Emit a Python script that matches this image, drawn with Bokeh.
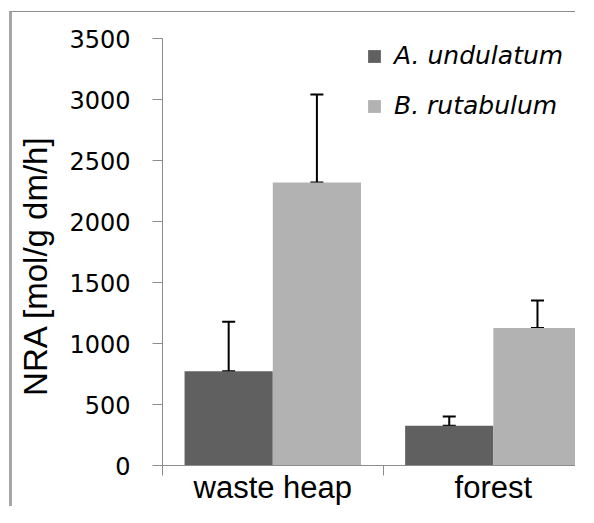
from bokeh.plotting import figure
from bokeh.models import (Range1d, FixedTicker, Whisker, TeeHead, ColumnDataSource,
                          Legend, LegendItem, LinearAxis)
from bokeh.embed import file_html
from bokeh.resources import INLINE

# ---- data ----
categories = ["waste heap", "forest"]
series_names = ["A. undulatum", "B. rutabulum"]
a_undulatum = [772, 325]
b_rutabulum = [2320, 1128]
a_err = [406, 76]
b_err = [722, 224]
y_ticks = [0, 500, 1000, 1500, 2000, 2500, 3000, 3500]
y_label = "NRA [mol/g dm/h]"

colors = ["#606060", "#b2b2b2"]
axis_col = "#8c8c8c"

W, H = 566, 495
p = figure(width=W, height=H, output_backend="svg", toolbar_location=None,
           x_range=Range1d(0, 1.886), y_range=Range1d(0, 3500),
           min_border_left=150, min_border_right=0, min_border_top=26, min_border_bottom=40,
           x_axis_type=None, y_axis_type=None)
# outer picture frame (top and left edges)
p.margin = (11, 0, 0, 9)
p.styles = {"border-top": "1px solid #8c8c8c", "border-left": "3px solid #a6a6a6",
            "border-bottom": "0px none", "border-right": "0px none"}
p.outline_line_color = None
p.xgrid.visible = False
p.ygrid.visible = False
p.background_fill_color = "white"
p.border_fill_color = "white"

bar_w = 0.4
centers = [i + 0.5 for i in range(len(categories))]
xa = [c - bar_w / 2 for c in centers]
xb = [c + bar_w / 2 for c in centers]

src_a = ColumnDataSource(dict(x=xa, top=a_undulatum,
                              up=[v + e for v, e in zip(a_undulatum, a_err)]))
src_b = ColumnDataSource(dict(x=xb, top=b_rutabulum,
                              up=[v + e for v, e in zip(b_rutabulum, b_err)]))

ra = p.vbar(x="x", top="top", width=bar_w, source=src_a, fill_color=colors[0], line_color=None)
rb = p.vbar(x="x", top="top", width=bar_w, source=src_b, fill_color=colors[1], line_color=None)

for src in (src_a, src_b):
    w = Whisker(base="x", lower="top", upper="up", source=src,
                line_color="black", line_width=2,
                upper_head=TeeHead(size=13, line_color="black", line_width=2),
                lower_head=TeeHead(size=13, line_color="black", line_width=2))
    p.add_layout(w)

# y axis
yax = LinearAxis(ticker=FixedTicker(ticks=y_ticks, minor_ticks=[]))
yax.axis_label = y_label + "\u00a0\u00a0\u00a0"
yax.axis_label_text_font = "Liberation Sans"
yax.axis_label_text_font_style = "normal"
yax.axis_label_text_font_size = "33px"
yax.axis_label_text_color = "black"
yax.axis_label_standoff = 12
yax.major_label_text_font = "DejaVu Sans"
yax.major_label_text_font_size = "24px"
yax.major_label_text_color = "black"
yax.major_label_standoff = 22
yax.axis_line_color = axis_col
yax.major_tick_line_color = axis_col
yax.major_tick_out = 10
yax.major_tick_in = 0
yax.minor_tick_line_color = None
p.add_layout(yax, "left")

# x axis: labels at category centres, ticks at category boundaries
xax = LinearAxis(ticker=FixedTicker(ticks=centers, minor_ticks=[0, 1, 2]))
xax.major_label_overrides = {c: n for c, n in zip(centers, categories)}
xax.major_label_text_font = "Liberation Sans"
xax.major_label_text_font_size = "31px"
xax.major_label_text_color = "black"
xax.major_label_standoff = -6
xax.axis_line_color = axis_col
xax.major_tick_line_color = None
xax.major_tick_out = 0
xax.major_tick_in = 0
xax.minor_tick_line_color = axis_col
xax.minor_tick_out = 10
xax.minor_tick_in = 0
p.add_layout(xax, "below")

legend = Legend(items=[LegendItem(label=series_names[0], renderers=[ra]),
                       LegendItem(label=series_names[1], renderers=[rb])],
                location=(204, 345))
legend.label_text_font = "DejaVu Sans"
legend.label_text_font_style = "italic"
legend.label_text_font_size = "25px"
legend.label_text_color = "black"
legend.glyph_width = 16
legend.glyph_height = 16
legend.label_standoff = 12
legend.spacing = 21
legend.padding = 0
legend.margin = 0
legend.border_line_color = None
legend.background_fill_alpha = 0
p.add_layout(legend)

open("out.html", "w").write(file_html(p, INLINE))
